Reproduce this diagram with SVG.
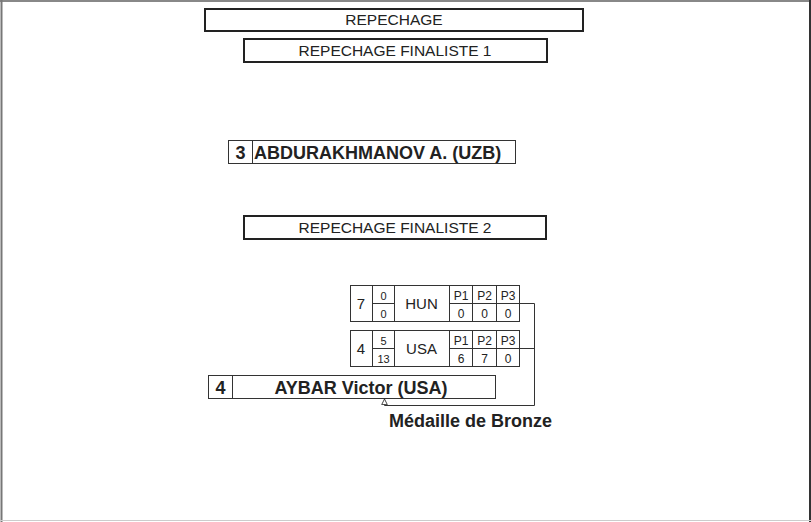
<svg xmlns="http://www.w3.org/2000/svg" width="811" height="522" viewBox="0 0 811 522">
<style>
text{font-family:"Liberation Sans",Arial,sans-serif;fill:#222}
.hdr{fill:#fff;stroke:#222;stroke-width:2}
.cell{fill:#fff;stroke:#333;stroke-width:1}
.ln{stroke:#333;stroke-width:1;fill:none}
.h{font-size:15.5px;text-anchor:middle}
.b{font-weight:bold;font-size:18px}
.s{font-size:11px;text-anchor:middle}
.p{font-size:12px;text-anchor:middle}
.m{font-size:15px;text-anchor:middle}
</style>
<defs>
<marker id="arr" viewBox="0 0 10 10" refX="9" refY="5" markerWidth="7" markerHeight="8" orient="auto" markerUnits="userSpaceOnUse">
<path d="M1,1 L9,5 L1,9 Z" fill="#fff" stroke="#333" stroke-width="1.3"/>
</marker>
</defs>
<rect x="0" y="0" width="811" height="522" fill="#fff"/>
<line x1="0" y1="1" x2="811" y2="1" stroke="#888" stroke-width="2"/>
<line x1="1.5" y1="0" x2="1.5" y2="522" stroke="#777" stroke-width="2"/>
<line x1="810" y1="0" x2="810" y2="522" stroke="#333" stroke-width="2"/>
<line x1="0" y1="520.5" x2="811" y2="520.5" stroke="#ccc" stroke-width="1"/>

<g id="hdr-repechage">
<rect class="hdr" x="205" y="9" width="378" height="22"/>
<text class="h" x="394" y="25">REPECHAGE</text>
</g>
<g id="hdr-finaliste1">
<rect class="hdr" x="244" y="39" width="303" height="23"/>
<text class="h" x="395" y="55.5">REPECHAGE FINALISTE 1</text>
</g>
<g id="winner1">
<rect class="cell" x="228.5" y="140.5" width="287" height="23"/>
<line class="ln" x1="252.5" y1="140.5" x2="252.5" y2="163.5"/>
<text class="b" x="240.5" y="158.5" text-anchor="middle">3</text>
<text class="b" x="254" y="158.5">ABDURAKHMANOV A. (UZB)</text>
</g>
<g id="hdr-finaliste2">
<rect class="hdr" x="244" y="216" width="302" height="23"/>
<text class="h" x="395" y="233">REPECHAGE FINALISTE 2</text>
</g>

<g id="match-hun">
<rect class="cell" x="350.5" y="285.5" width="169" height="36"/>
<line class="ln" x1="372.5" y1="285.5" x2="372.5" y2="321.5"/>
<line class="ln" x1="394.5" y1="285.5" x2="394.5" y2="321.5"/>
<line class="ln" x1="449.5" y1="285.5" x2="449.5" y2="321.5"/>
<line class="ln" x1="472.5" y1="285.5" x2="472.5" y2="321.5"/>
<line class="ln" x1="496.5" y1="285.5" x2="496.5" y2="321.5"/>
<line class="ln" x1="372.5" y1="303.5" x2="394.5" y2="303.5"/>
<line class="ln" x1="449.5" y1="303.5" x2="519.5" y2="303.5"/>
<text class="m" x="361" y="309">7</text>
<text class="s" x="383.5" y="300">0</text>
<text class="s" x="383.5" y="318">0</text>
<text class="m" x="421.5" y="309">HUN</text>
<text class="p" x="461" y="300">P1</text>
<text class="p" x="484.5" y="300">P2</text>
<text class="p" x="508" y="300">P3</text>
<text class="p" x="461" y="318">0</text>
<text class="p" x="484.5" y="318">0</text>
<text class="p" x="508" y="318">0</text>
</g>

<g id="match-usa">
<rect class="cell" x="350.5" y="330.5" width="169" height="36"/>
<line class="ln" x1="372.5" y1="330.5" x2="372.5" y2="366.5"/>
<line class="ln" x1="394.5" y1="330.5" x2="394.5" y2="366.5"/>
<line class="ln" x1="449.5" y1="330.5" x2="449.5" y2="366.5"/>
<line class="ln" x1="472.5" y1="330.5" x2="472.5" y2="366.5"/>
<line class="ln" x1="496.5" y1="330.5" x2="496.5" y2="366.5"/>
<line class="ln" x1="372.5" y1="348.5" x2="394.5" y2="348.5"/>
<line class="ln" x1="449.5" y1="348.5" x2="519.5" y2="348.5"/>
<text class="m" x="361" y="354">4</text>
<text class="s" x="383.5" y="345">5</text>
<text class="s" x="383.5" y="363">13</text>
<text class="m" x="421.5" y="354">USA</text>
<text class="p" x="461" y="345">P1</text>
<text class="p" x="484.5" y="345">P2</text>
<text class="p" x="508" y="345">P3</text>
<text class="p" x="461" y="363">6</text>
<text class="p" x="484.5" y="363">7</text>
<text class="p" x="508" y="363">0</text>
</g>

<g id="winner2">
<rect class="cell" x="208.5" y="375.5" width="287" height="23"/>
<line class="ln" x1="232.5" y1="375.5" x2="232.5" y2="398.5"/>
<text class="b" x="220.5" y="393.5" text-anchor="middle">4</text>
<text class="b" x="361" y="393.5" text-anchor="middle">AYBAR Victor (USA)</text>
</g>

<g id="connectors">
<path class="ln" d="M519.5,303.5 H534.5 V405.5 H384.5 V399" marker-end="url(#arr)"/>
<line class="ln" x1="519.5" y1="348.5" x2="534.5" y2="348.5"/>
</g>

<g id="label-bronze">
<text class="b" x="389" y="426.5">Médaille de Bronze</text>
</g>
</svg>
